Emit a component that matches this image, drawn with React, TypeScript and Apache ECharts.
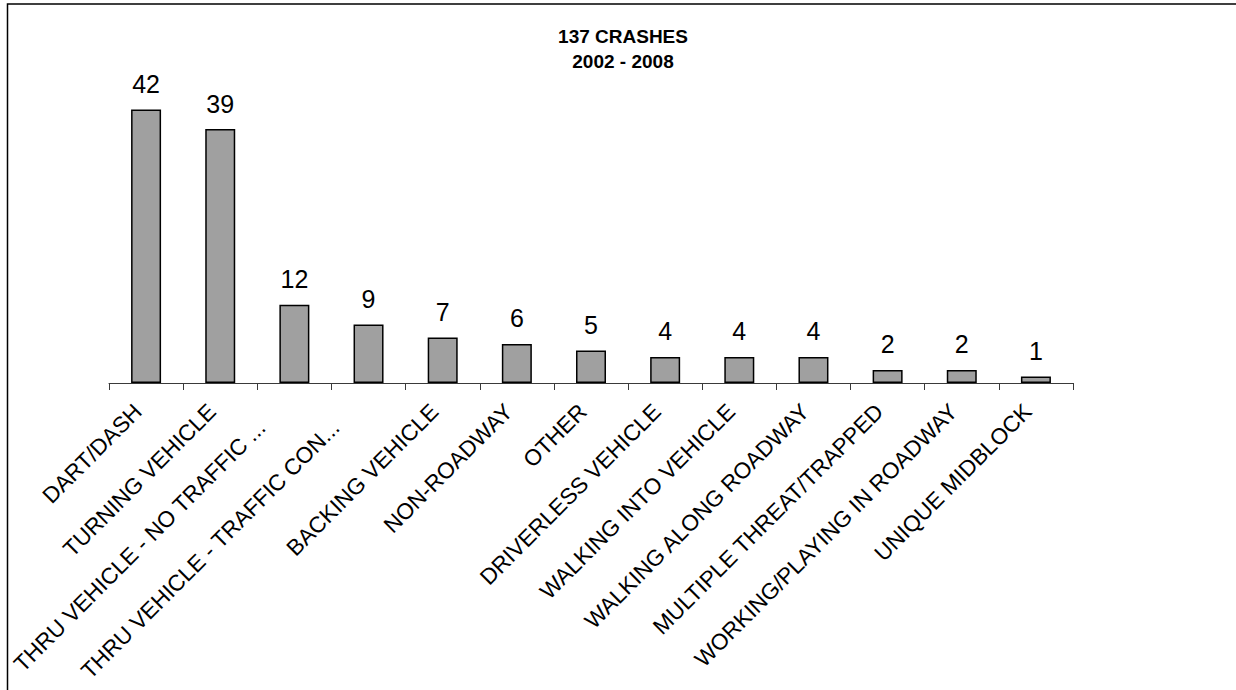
import React, { useEffect, useRef } from "react";
import * as echarts from "echarts";

// Crash types and counts
const categories: string[] = [
  "DART/DASH",
  "TURNING VEHICLE",
  "THRU VEHICLE - NO TRAFFIC ...",
  "THRU VEHICLE - TRAFFIC CON...",
  "BACKING VEHICLE",
  "NON-ROADWAY",
  "OTHER",
  "DRIVERLESS VEHICLE",
  "WALKING INTO VEHICLE",
  "WALKING ALONG ROADWAY",
  "MULTIPLE THREAT/TRAPPED",
  "WORKING/PLAYING IN ROADWAY",
  "UNIQUE MIDBLOCK",
];
const crashCounts: number[] = [42, 39, 12, 9, 7, 6, 5, 4, 4, 4, 2, 2, 1];
const titleLines: string[] = ["137 CRASHES", "2002 - 2008"];

const FONT = "'Liberation Sans', Arial, Helvetica, sans-serif";
const LABEL_SIZE = 22.5;

// Shortened (ellipsis) labels sit a little further from the axis
const isShortened = (s: string) => s.endsWith("...");

export default function App() {
  const ref = useRef<HTMLDivElement>(null);

  useEffect(() => {
    if (!ref.current) return;
    const chart = echarts.init(ref.current, null, { renderer: "svg" });
    chart.setOption({
      animation: false,
      backgroundColor: "#ffffff",
      graphic: [
        {
          type: "rect",
          shape: { x: 7.5, y: 4, width: 1400, height: 900 },
          style: { fill: "none", stroke: "#000000", lineWidth: 1.5 },
          silent: true,
        },
        {
          type: "text",
          x: 623,
          y: 24,
          style: {
            text: titleLines.join("\n"),
            textAlign: "center",
            textVerticalAlign: "top",
            fontFamily: FONT,
            fontWeight: "bold",
            fontSize: 19,
            lineHeight: 25,
            fill: "#000000",
          },
        },
      ],
      grid: { left: 109, right: 163, top: 90, bottom: 307 },
      xAxis: {
        type: "category",
        data: categories,
        boundaryGap: true,
        axisLine: { show: true, lineStyle: { color: "#3a3a3a", width: 1 } },
        axisTick: {
          show: true,
          alignWithLabel: false,
          interval: 0,
          length: 7,
          lineStyle: { color: "#3a3a3a", width: 1 },
        },
        axisLabel: {
          interval: 0,
          rotate: 45,
          margin: 33,
          align: "right",
          verticalAlign: "bottom",
          fontFamily: FONT,
          fontSize: LABEL_SIZE,
          color: "#000000",
          formatter: (value: string) =>
            isShortened(value) ? `{cut|${value}}` : value,
          rich: {
            cut: {
              fontFamily: FONT,
              fontSize: LABEL_SIZE,
              color: "#000000",
              padding: [0, 29, 6, 0],
            },
          },
        },
      },
      yAxis: {
        type: "value",
        min: 0,
        max: 45,
        show: false,
        splitLine: { show: false },
      },
      series: [
        {
          type: "bar",
          data: crashCounts,
          barWidth: 30,
          itemStyle: {
            color: "#a0a0a0",
            borderColor: "#000000",
            borderWidth: 1.5,
          },
          label: {
            show: true,
            position: "top",
            distance: 13,
            fontFamily: FONT,
            fontSize: 25,
            color: "#000000",
          },
        },
      ],
    });
    return () => chart.dispose();
  }, []);

  return (
    <div
      ref={ref}
      style={{ position: "absolute", left: 0, top: 0, width: 1236, height: 690 }}
    />
  );
}
